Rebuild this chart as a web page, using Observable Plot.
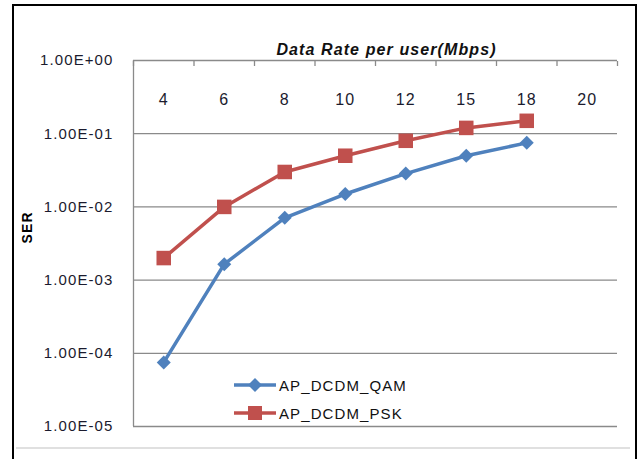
<!DOCTYPE html>
<html>
<head>
<meta charset="utf-8">
<script src="https://cdn.jsdelivr.net/npm/d3@7"></script>
<script src="https://cdn.jsdelivr.net/npm/@observablehq/plot@0.6"></script>
<style>
  html, body { margin: 0; padding: 0; background: #fff; }
  #wrap { position: relative; width: 641px; height: 459px; overflow: hidden; font-family: "Liberation Sans", Arial, sans-serif; }
  #border { position: absolute; left: 12px; top: 4px; width: 621px; height: 470px; border: 2px solid #000; box-sizing: content-box; }
  #bottomline { position: absolute; left: 16px; top: 447px; width: 614px; height: 2px; background: #e0e0e0; }
  #chart { position: absolute; left: 0; top: 0; }
  #legend { position: absolute; left: 234px; top: 371px; font-size: 15px; letter-spacing: 1.1px; color: #111; }
  .row { display: flex; align-items: center; height: 28px; }
  .row svg { margin-right: 3px; }
</style>
</head>
<body>
<div id="wrap">
  <div id="border"></div>
  <div id="bottomline"></div>
  <div id="chart"></div>
  <div id="legend"></div>
</div>
<script>
const categories = ["4", "6", "8", "10", "12", "15", "18", "20"];
const qamValues = [7.5e-5, 1.65e-3, 7.1e-3, 1.5e-2, 2.85e-2, 5.0e-2, 7.5e-2];
const pskValues = [2.0e-3, 1.0e-2, 3.0e-2, 5.0e-2, 8.0e-2, 1.2e-1, 1.5e-1];
const yTicks = [1e-5, 1e-4, 1e-3, 1e-2, 1e-1, 1];
const yTickLabels = ["1.00E-05", "1.00E-04", "1.00E-03", "1.00E-02", "1.00E-01", "1.00E+00"];
const seriesNames = ["AP_DCDM_QAM", "AP_DCDM_PSK"];
const seriesColors = ["#4F81BD", "#C0504D"];
const xTitle = "Data Rate per user(Mbps)";
const yTitle = "SER";

const qam = qamValues.map((v, i) => ({i, v}));
const psk = pskValues.map((v, i) => ({i, v}));
const idx = categories.map((c, i) => i);
const boundaries = [-0.5, ...idx.map(i => i + 0.5)];
const gray = "#8a8a8a";

const chart = Plot.plot({
  width: 641,
  height: 459,
  marginLeft: 133,
  marginRight: 24,
  marginTop: 60,
  marginBottom: 33,
  style: {fontFamily: "'Liberation Sans', Arial, sans-serif", background: "transparent", letterSpacing: "1.1px"},
  x: {type: "linear", domain: [-0.5, categories.length - 0.5], label: null},
  y: {type: "log", domain: [1e-5, 1], label: null},
  marks: [
    Plot.ruleY(yTicks, {stroke: gray, strokeWidth: 1.3}),
    Plot.ruleX([-0.5], {stroke: gray, strokeWidth: 1.3}),
    Plot.axisX({anchor: "top", ticks: boundaries, tickFormat: () => "", tickSize: 5, dy: 5, stroke: gray, strokeWidth: 1.3, label: null}),
    Plot.axisY({ticks: yTicks, tickFormat: d => yTickLabels[yTicks.indexOf(d)], tickSize: 0, tickPadding: 20, fontSize: 15, fill: "#1b1b2e", label: null}),
    Plot.text(categories, {x: (d, i) => i, text: d => d, frameAnchor: "top", dy: 33, fontSize: 16, fill: "#1b1b2e"}),
    Plot.text([xTitle], {frameAnchor: "top", dy: -17, dx: 11, fontSize: 16, fontWeight: "bold", fontStyle: "italic", fill: "#111"}),
    Plot.text([yTitle], {frameAnchor: "left", dx: -106, rotate: -90, fontSize: 14, fontWeight: "bold", fill: "#000"}),
    Plot.line(qam, {x: "i", y: "v", stroke: seriesColors[0], strokeWidth: 3.5}),
    Plot.line(psk, {x: "i", y: "v", stroke: seriesColors[1], strokeWidth: 3.5}),
    Plot.dot(qam, {x: "i", y: "v", symbol: "diamond2", r: 6.3, fill: seriesColors[0], stroke: "none"}),
    Plot.dot(psk, {x: "i", y: "v", symbol: "square", r: 8.2, fill: seriesColors[1], stroke: "none"})
  ]
});
document.getElementById("chart").appendChild(chart);

const legend = document.getElementById("legend");
seriesNames.forEach((name, k) => {
  const row = document.createElement("div");
  row.className = "row";
  const mark = k === 0
    ? `<polygon points="21,2 28,9 21,16 14,9" fill="${seriesColors[0]}"/>`
    : `<rect x="14" y="2" width="14" height="14" fill="${seriesColors[1]}"/>`;
  row.innerHTML = `<svg width="42" height="18"><line x1="0" y1="9" x2="42" y2="9" stroke="${seriesColors[k]}" stroke-width="3.5"/>${mark}</svg><span>${name}</span>`;
  legend.appendChild(row);
});
</script>
</body>
</html>
